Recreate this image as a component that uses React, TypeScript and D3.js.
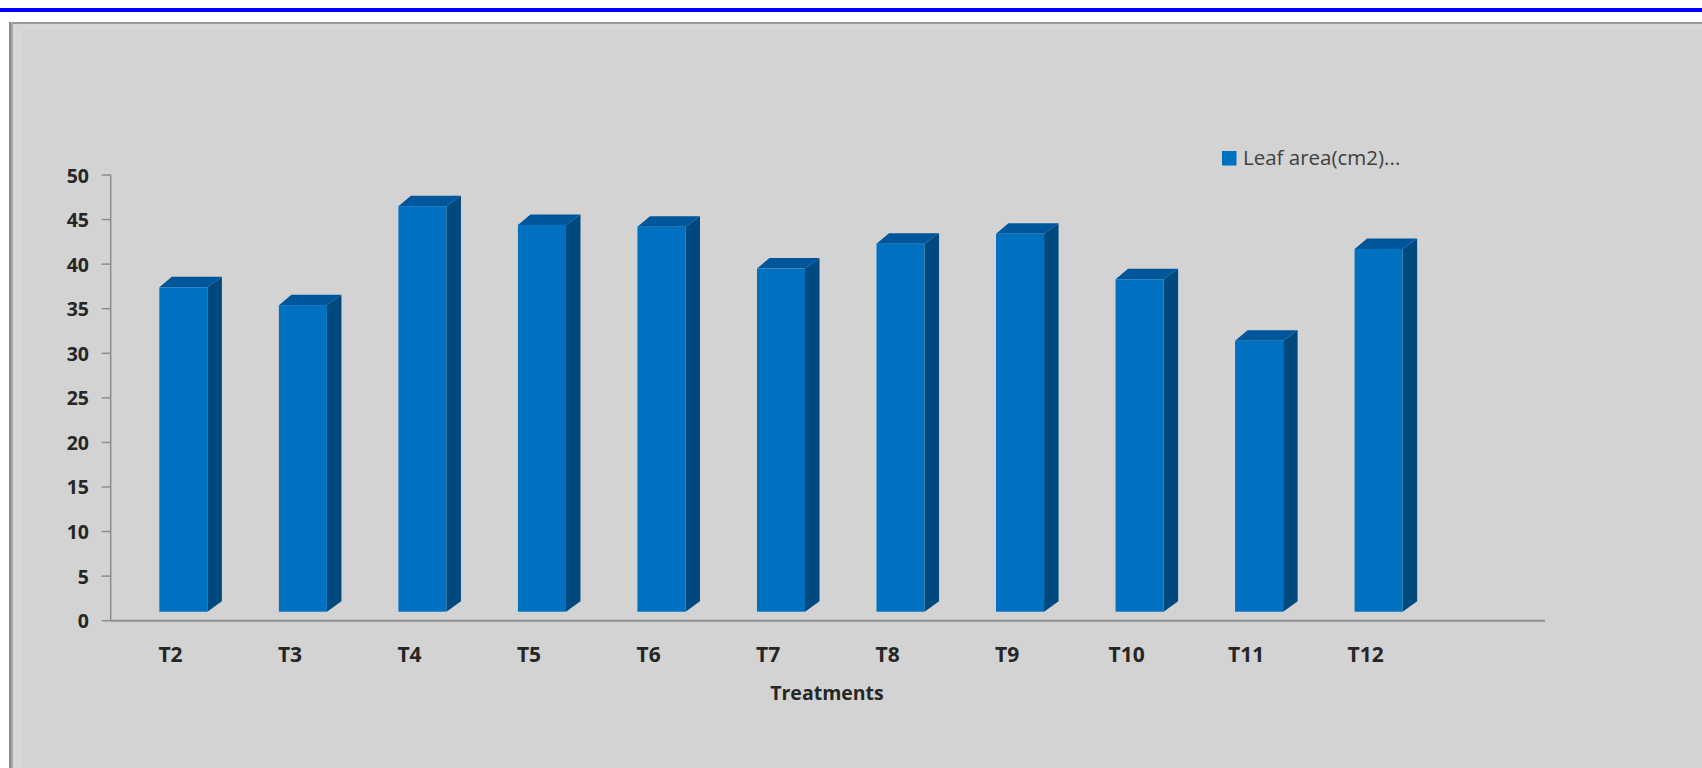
import React from "react";
import * as d3 from "d3";

const categories = ["T2", "T3", "T4", "T5", "T6", "T7", "T8", "T9", "T10", "T11", "T12"];
const leafArea = [37.4, 35.4, 46.5, 44.4, 44.2, 39.5, 42.3, 43.4, 38.3, 31.4, 41.7];
const yTicks = [0, 5, 10, 15, 20, 25, 30, 35, 40, 45, 50];
const seriesName = "Leaf area(cm2)...";
const xTitle = "Treatments";

const W = 1702;
const H = 768;

export default function App() {
  // 12 slots: the last one is left empty, as in the reference axis
  const slots = [...categories, ""];
  const x = d3.scaleBand<string>().domain(slots).range([110.7, 1545]).padding(0);
  const y = d3.scaleLinear().domain([0, 50]).range([620.7, 175]);
  const bw = x.bandwidth();
  const frontW = bw * 0.402;
  const frontOff = bw * 0.407;
  const dx = 14.5;
  const dy = 10.5;
  const floor = 9;

  const font = "'Open Sans', 'DejaVu Sans', sans-serif";

  return (
    <div style={{ position: "absolute", left: 0, top: 0 }}>
      <svg width={W} height={H} style={{ display: "block" }}>
        <rect x={0} y={0} width={W} height={H} fill="#ffffff" />
        <rect x={0} y={8} width={W} height={4} fill="#0000ff" />
        {/* panel */}
        <rect x={9} y={22} width={W - 9} height={H - 22} fill="#d3d3d3" />
        <rect x={9} y={22} width={W - 9} height={2} fill="#9a9a9a" />
        <rect x={9} y={24} width={W - 9} height={6} fill="#d8d8d8" />
        <rect x={9} y={22} width={2} height={H - 22} fill="#8a8a8a" />
        <rect x={11} y={22} width={2} height={H - 22} fill="#a8a8a8" />
        <rect x={13} y={24} width={8} height={H - 24} fill="#d7d7d7" />

        {/* y axis */}
        <line x1={110.7} x2={110.7} y1={y(50)} y2={y(0)} stroke="#8c8c8c" strokeWidth={1.5} />
        {yTicks.map((t) => (
          <g key={t}>
            <line x1={101.7} x2={110.7} y1={y(t)} y2={y(t)} stroke="#8c8c8c" strokeWidth={1.5} />
            <text
              x={89}
              y={y(t)}
              textAnchor="end"
              dominantBaseline="central"
              fontFamily={font}
              fontWeight={700}
              fontSize={19.5}
              fill="#262626"
            >
              {t}
            </text>
          </g>
        ))}

        {/* bars */}
        {categories.map((c, i) => {
          const xl = (x(c) as number) + frontOff;
          const xr = xl + frontW;
          const yt = y(leafArea[i]);
          const yb = y(0) - floor;
          return (
            <g key={c}>
              <polygon
                points={`${xr},${yt} ${xr + dx},${yt - dy} ${xr + dx},${yb - dy} ${xr},${yb}`}
                fill="#00497f"
              />
              <polygon
                points={`${xl},${yt} ${xl + dx - 2},${yt - dy} ${xr + dx},${yt - dy} ${xr},${yt}`}
                fill="#00569a"
              />
              <rect x={xl} y={yt} width={frontW} height={yb - yt} fill="#0070c0" />
            </g>
          );
        })}

        {/* x axis */}
        <line x1={110.7} x2={1545} y1={y(0)} y2={y(0)} stroke="#8c8c8c" strokeWidth={2} />
        {categories.map((c) => (
          <text
            key={c}
            x={(x(c) as number) + bw / 2}
            y={662}
            textAnchor="middle"
            fontFamily={font}
            fontWeight={700}
            fontSize={21}
            fill="#262626"
          >
            {c}
          </text>
        ))}
        <text
          x={827}
          y={699.5}
          textAnchor="middle"
          fontFamily={font}
          fontWeight={700}
          fontSize={19.5}
          fill="#262626"
        >
          {xTitle}
        </text>

        {/* legend */}
        <rect x={1222} y={151} width={14.5} height={14.5} fill="#0070c0" />
        <text x={1243} y={165} fontFamily={font} fontSize={20.5} fill="#404040">
          {seriesName}
        </text>
      </svg>
    </div>
  );
}
